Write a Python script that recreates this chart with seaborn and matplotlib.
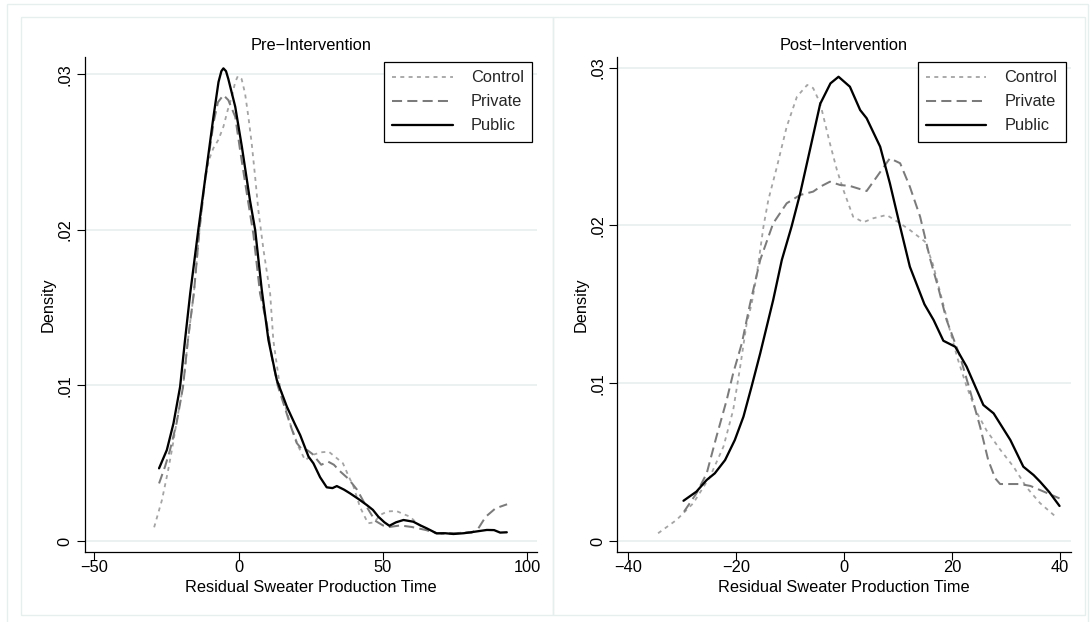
import matplotlib
matplotlib.use('Agg')
import matplotlib.pyplot as plt
from matplotlib.patches import Rectangle
import seaborn as sns
import pandas as pd

##################################################################################
# data (kernel density curves)
##################################################################################
GROUPS = ['Control', 'Private', 'Public']

# Pre-Intervention
pre_control_x = [-29.3, -26.6, -24.5, -23.0, -21.2, -19.3, -17.6, -15.5, -13.6, -11.8,
                 -10.3, -8.8, -7.0, -5.3, -3.8, -2.4, -1.2, -0.3, 1.0, 2.2, 3.4, 4.5,
                 5.7, 6.8, 8.6, 10.9, 12.0, 14.3, 17.8, 20.7, 23.0, 25.9, 28.5, 31.2,
                 33.5, 36.1, 38.0, 39.8, 42.0, 44.8, 47.0, 49.0, 51.5, 54.6, 57.5, 59.4,
                 62.0, 65.2, 69.8, 75.0, 81.0]
pre_control_y = [.00088, .00263, .0045, .0060, .0080, .0099, .0129, .0160, .0200, .0230,
                 .0245, .02524, .0258, .02663, .0277, .02855, .0295, .02988, .0297, .02877,
                 .0272, .02556, .0234, .02127, .0187, .0159, .0129, .0099, .00756, .00606,
                 .0052, .00555, .0057, .00574, .0054, .0050, .0042, .00349, .0022, .00114,
                 .0012, .00167, .0019, .00193, .0017, .00156, .0011, .00071, .00045, .0005,
                 .0006]

pre_private_x = [-27.6, -25.5, -23.8, -21.5, -19.3, -17.6, -15.5, -13.6, -11.5, -10.2,
                 -8.6, -7.2, -5.3, -3.6, -1.2, 0.5, 2.8, 5.1, 7.4, 9.7, 11.5, 13.5, 15.5,
                 18.0, 20.1, 22.3, 23.7, 25.5, 28.6, 31.0, 33.0, 35.0, 38.0, 41.0, 44.0,
                 47.3, 50.0, 52.2, 56.0, 60.0, 65.0, 68.3, 75.0, 80.7, 83.0, 85.6, 89.0,
                 93.0]
pre_private_y = [.0037, .0048, .00585, .0076, .0099, .0129, .0160, .0200, .0235, .0250,
                 .0270, .0282, .02866, .02834, .02727, .0251, .02235, .0197, .0159, .0140,
                 .0118, .0100, .00885, .0074, .0063, .0058, .00585, .0056, .0049, .0051,
                 .0049, .0045, .0040, .0033, .0023, .0013, .0010, .0009, .0010, .0009,
                 .0007, .0005, .0005, .00053, .0008, .00156, .0021, .00236]

pre_public_x = [-27.6, -24.9, -22.6, -20.3, -18.6, -16.8, -14.0, -11.1, -8.8, -7.0, -6.0,
                -5.3, -4.4, -3.6, -1.2, 1.1, 3.9, 5.7, 8.0, 10.3, 13.2, 16.7, 19.5, 21.3,
                24.2, 25.9, 28.2, 30.5, 32.5, 34.0, 36.5, 38.6, 41.5, 44.4, 46.5, 48.4,
                50.5, 52.2, 54.5, 57.1, 60.5, 63.0, 65.2, 68.6, 71.5, 74.4, 78.0, 81.9,
                86.0, 88.5, 90.6, 92.9]
pre_public_y = [.00467, .00585, .00756, .00992, .01292, .01592, .0200, .0240, .0272,
                .0295, .0302, .03038, .0302, .0297, .02791, .02534, .0219, .0200, .01613,
                .01292, .01035, .00863, .0075, .00681, .00542, .00499, .0041, .00345,
                .0034, .00353, .0033, .00306, .0027, .00231, .0020, .00156, .0012, .00098,
                .0012, .00135, .00124, .0010, .00081, .00049, .0005, .00045, .0005, .0006,
                .00071, .0007, .00054, .00056]

# Post-Intervention
post_control_x = [-34.4, -31.0, -27.9, -24.8, -22.3, -20.5, -19.2, -18.0, -17.1, -16.1,
                  -14.9, -14.0, -12.4, -10.6, -8.7, -6.8, -5.7, -4.4, -2.6, -1.3, -0.1,
                  1.7, 3.6, 5.4, 7.9, 10.4, 12.2, 15.0, 16.5, 18.0, 19.5, 21.0, 22.7,
                  24.5, 26.4, 28.9, 31.4, 33.8, 36.3, 39.4]
post_control_y = [.00049, .00133, .00239, .00407, .00598, .0083, .01105, .0138, .0150,
                  .01696, .01992, .02161, .02372, .02625, .02816, .0289, .0287, .02774,
                  .0252, .02351, .02224, .02055, .0202, .02045, .02066, .02013, .01971,
                  .01897, .0175, .0155, .0135, .0116, .0098, .0082, .0070, .0058, .0047,
                  .0034, .0024, .00148]

post_private_x = [-29.6, -27.3, -25.4, -23.6, -21.7, -20.5, -18.9, -17.4, -15.5, -13.1,
                  -10.6, -8.1, -5.7, -4.4, -2.6, -0.7, 1.1, 3.0, 4.2, 6.1, 8.5, 10.4,
                  12.2, 14.1, 16.0, 17.5, 19.0, 21.5, 23.3, 25.2, 26.7, 28.0, 28.9, 32.6,
                  34.5, 36.3, 39.9]
post_private_y = [.00186, .00302, .00429, .00661, .00894, .01063, .01253, .0150, .01781,
                  .02013, .0214, .02193, .02214, .02245, .02277, .02256, .0225, .0223,
                  .02218, .02309, .02425, .02394, .02245, .02055, .01781, .0160, .0140,
                  .01168, .00957, .00724, .00513, .00397, .00361, .00361, .00349, .00323,
                  .0027]

post_public_x = [-29.7, -27.3, -25.4, -23.9, -22.0, -20.2, -18.6, -17.1, -15.5, -14.0,
                 -13.1, -11.5, -9.7, -8.1, -6.3, -4.4, -2.5, -1.0, 1.1, 3.0, 4.2, 6.7,
                 8.5, 10.4, 12.2, 14.9, 16.6, 18.4, 20.6, 22.7, 25.8, 27.7, 30.8, 33.2,
                 35.1, 36.3, 38.0, 39.9]
post_public_y = [.00255, .00313, .00387, .00429, .00513, .0064, .00788, .00978, .01189,
                 .0140, .01527, .01781, .01992, .02203, .02478, .0277, .0290, .02942,
                 .02879, .02731, .02679, .02499, .02267, .01992, .01738, .0150, .0140,
                 .01269, .01231, .01105, .00862, .00809, .0064, .00471, .00418, .00376,
                 .0031, .00222]

pre_xticks = [-50, 0, 50, 100]
post_xticks = [-40, -20, 0, 20, 40]
yticks = [0, .01, .02, .03]
ytick_labels = ['0', '.01', '.02', '.03']

##################################################################################
# styling
##################################################################################
sns.set_theme(style='white')
plt.rcParams['font.family'] = ['Liberation Sans', 'DejaVu Sans']

COLORS = {'Control': '#a4a4a4', 'Private': '#7b7b7b', 'Public': '#000000'}
DASHES = {'Control': (2.2, 2.4), 'Private': (5.0, 2.6), 'Public': ''}
WIDTHS = {'Control': 1.3, 'Private': 1.45, 'Public': 1.65}
FS = 11.8
GRID_CLR = '#e6eeee'

W, H = 1091, 622


def fx(px):
    return px / W


def fy(py):
    return 1 - py / H


fig = plt.figure(figsize=(W / 100, H / 100), dpi=100)

# outer frame and the two panel frames of the combined graph
for (x0, y0, x1, y1) in [(7, 4.3, 1088, 660), (21, 17, 553, 615), (553, 17, 1085, 615)]:
    fig.patches.append(Rectangle((fx(x0), fy(y1)), fx(x1) - fx(x0), fy(y0) - fy(y1),
                                 transform=fig.transFigure, fill=False,
                                 edgecolor=GRID_CLR, lw=1.0))

ax1 = fig.add_axes([fx(84.6), fy(551.7), fx(536.8) - fx(84.6), fy(57.3) - fy(551.7)])
ax2 = fig.add_axes([fx(617.3), fy(551.7), fx(1070.6) - fx(617.3), fy(57.3) - fy(551.7)])


def draw_panel(ax, curves, title, xticks, xlim, ylim):
    df = pd.concat([pd.DataFrame({'x': cx, 'y': cy, 'group': g})
                    for g, (cx, cy) in zip(GROUPS, curves)], ignore_index=True)
    sns.lineplot(data=df, x='x', y='y', hue='group', style='group', size='group',
                 hue_order=GROUPS, style_order=GROUPS, size_order=GROUPS,
                 palette=COLORS, dashes=DASHES, sizes=WIDTHS,
                 estimator=None, sort=False, legend=False, ax=ax)

    ax.set_xlim(xlim)
    ax.set_ylim(ylim)
    ax.set_xticks(xticks)
    ax.set_xticklabels([str(t).replace('-', '\u2212') for t in xticks])
    ax.set_yticks(yticks)
    ax.set_yticklabels(ytick_labels, rotation=90, va='center')
    for t in yticks:
        ax.axhline(t, color=GRID_CLR, lw=1.1, zorder=0)

    for s in ['top', 'right']:
        ax.spines[s].set_visible(False)
    for s in ['left', 'bottom']:
        ax.spines[s].set_color('black')
        ax.spines[s].set_linewidth(0.9)
    ax.tick_params(axis='both', which='major', length=5.5, width=0.8, color='black',
                   labelsize=FS, labelcolor='black', bottom=True, left=True)
    ax.tick_params(axis='x', pad=0.5)
    ax.tick_params(axis='y', pad=3.0)

    ax.set_xlabel('Residual Sweater Production Time', fontsize=FS, labelpad=3.3,
                  color='black')
    ax.set_ylabel('Density', fontsize=FS, labelpad=1.5, color='black')
    ax.set_title(title, fontsize=FS, pad=5.0, color='black')

    handles = ax.get_lines()[:3]
    leg = ax.legend(handles, GROUPS, loc='upper right', bbox_to_anchor=(1.0, 1.0),
                    fontsize=FS, frameon=True, fancybox=False, framealpha=1,
                    edgecolor='black', borderaxespad=0.3, borderpad=0.5,
                    labelspacing=0.55, handlelength=3.7, handletextpad=1.1)
    leg.get_frame().set_linewidth(0.9)


draw_panel(ax1,
           [(pre_control_x, pre_control_y), (pre_private_x, pre_private_y),
            (pre_public_x, pre_public_y)],
           'Pre\u2212Intervention', pre_xticks, (-53.4, 103.3), (-0.000688, 0.03109))

draw_panel(ax2,
           [(post_control_x, post_control_y), (post_private_x, post_private_y),
            (post_public_x, post_public_y)],
           'Post\u2212Intervention', post_xticks, (-41.95, 41.95), (-0.000678, 0.030653))

fig.savefig('out.png', dpi=100)
